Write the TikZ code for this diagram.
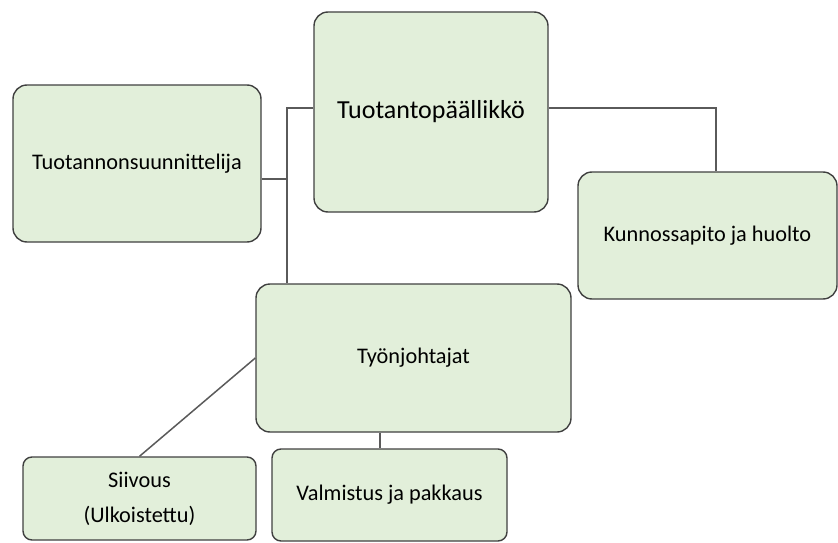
\documentclass[tikz,border=0pt]{standalone}
\usepackage{fontspec}
\setmainfont{Carlito}
\usepackage{tikz}
\usetikzlibrary{positioning}
\definecolor{boxfill}{HTML}{E2EFDA}
\definecolor{boxline}{HTML}{404040}
\definecolor{linkgray}{HTML}{5A5A5A}

\begin{document}
\begin{tikzpicture}[x=1pt,y=-1pt,
    orgbox/.style={draw=boxline, fill=boxfill, line width=1.4pt, rounded corners=14pt,
                   align=center, inner sep=0pt, font=\fontsize{22.3}{27}\selectfont},
    smallbox/.style={orgbox, rounded corners=9pt},
    link/.style={draw=linkgray, line width=1.5pt}]
                    \useasboundingbox (0,0) rectangle (838,543);
                    % boxes
                    \node [orgbox, minimum width=234pt, minimum height=200pt,
                           font=\fontsize{26}{31}\selectfont] (boss) at (431,112) {Tuotantopäällikkö};
                    \node [orgbox, minimum width=248pt, minimum height=157pt] (plan) at (137,163.5) {Tuotannonsuunnittelija};
                    \node [orgbox, minimum width=259pt, minimum height=127pt] (maint) at (707.5,235.5) {Kunnossapito ja huolto};
                    \node [orgbox, minimum width=315pt, minimum height=148pt] (lead) at (413.5,358) {Työnjohtajat};
                    \node [smallbox, minimum width=233pt, minimum height=83pt] (clean) at (139.5,498.5) {Siivous\\[8pt](Ulkoistettu)};
                    \node [smallbox, minimum width=235pt, minimum height=92pt] (make) at (389.5,495) {Valmistus ja pakkaus};
                    % connectors
                    \coordinate (bend) at (287,108);
                    \coordinate (tee) at (287,179);
                    \coordinate (knee) at (716,108);
                    \coordinate (drop) at (380,440);
                    \draw [link] (boss.west |- bend) -- (bend) -- (bend |- lead.north);
                    \draw [link] (plan.east |- tee) -- (tee);
                    \draw [link] (boss.east |- knee) -- (knee) -- (knee |- maint.north);
                    \draw [link] (lead.west) -- (clean.north);
                    \draw [link] (lead.south -| drop) -- (make.north -| drop);
                \end{tikzpicture}
\end{document}
